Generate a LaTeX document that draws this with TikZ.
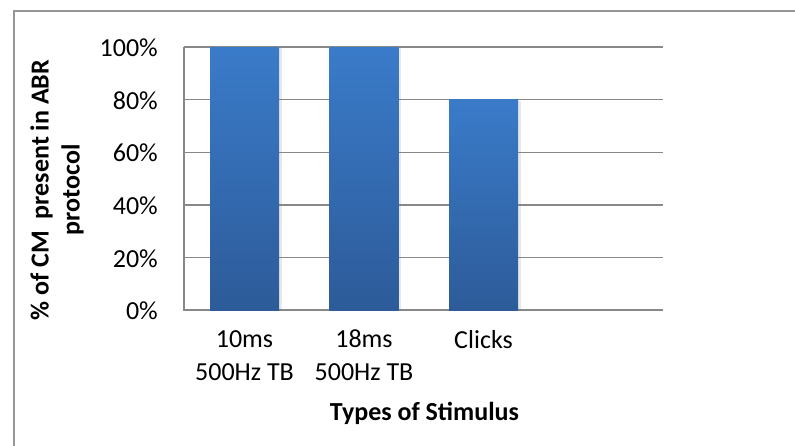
\documentclass[tikz,border=0pt]{standalone}
\usepackage{fontspec}
\setmainfont{Carlito}
\usetikzlibrary{positioning, shadows}
\definecolor{gridgray}{RGB}{136,136,136}
\definecolor{framegray}{RGB}{150,150,150}
\definecolor{barTop}{RGB}{58,123,201}
\definecolor{barBot}{RGB}{45,91,153}
\tikzset{gridline/.style={draw=gridgray,line width=1.4pt},
  frameline/.style={draw=framegray,line width=1.6pt},
  bar/.style={rectangle,top color=barTop,bottom color=barBot,minimum width=69pt,inner sep=0pt,outer sep=0pt,anchor=south,
    drop shadow={opacity=0.18,shadow xshift=2.5pt,shadow yshift=-1pt}},
  ticklab/.style={anchor=east,inner sep=0pt,font=\fontsize{26}{33}\selectfont},
  catlab/.style={align=center,inner sep=0pt,font=\fontsize{26}{33}\selectfont},
  axtitle/.style={align=center,inner sep=0pt,font=\fontsize{26}{31}\selectfont\bfseries}}

\begin{document}
\begin{tikzpicture}[x=1pt,y=-1pt,node distance=20pt]
\useasboundingbox[fill=white] (0,0) rectangle (795,445);
\draw[frameline] (14,450) -- (14,11) -- (800,11);
% grid and axes
\foreach \v in {20,40,60,80,100}
  \draw[gridline] (184,{310-2.63*\v}) -- (663,{310-2.63*\v});
\draw[gridline] (184,47) -- (184,310) -- (663,310);
\foreach \v in {0,20,40,60,80,100}
  \node[ticklab] (t\v) at (158,{311-2.63*\v}) {\v\%};
% bars
\node[bar,minimum height=263pt] (b10) at (244.5,310) {};
\node[bar,minimum height=263pt] (b18) at (364,310) {};
\node[bar,minimum height=210.4pt] (bcl) at (483.5,310) {};
\node[catlab, below=of b10] (c10) {10ms\\500Hz TB};
\node[catlab, below=of b18] (c18) {18ms\\500Hz TB};
\node[catlab, below=of bcl] (ccl) {Clicks};
% axis titles
\node[axtitle, anchor=base] (xt) at (424.5,420) {Types of Stimulus};
\node[axtitle, rotate=90] (yt) at (57,190) {\% of CM\ \ present in ABR\\protocol};
\end{tikzpicture}
\end{document}
